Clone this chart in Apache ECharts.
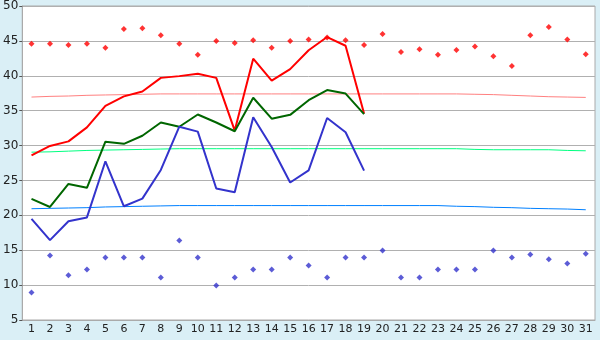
<!DOCTYPE html>
<html><head><meta charset="utf-8">
<script src="https://cdn.jsdelivr.net/npm/echarts@6/dist/echarts.min.js"></script>
<style>html,body{margin:0;padding:0;background:#daeff6;}#c{width:600px;height:340px;}</style>
</head><body><div id="c"></div>
<script>
const days = Array.from({length:31},(_,i)=>String(i+1));
const yTicks = [5,10,15,20,25,30,35,40,45,50];
const recordHigh = [44.6,44.6,44.4,44.6,44.0,46.7,46.8,45.8,44.6,43.0,45.0,44.7,45.1,44.0,45.0,45.2,45.5,45.1,44.4,46.0,43.4,43.8,43.0,43.7,44.2,42.8,41.4,45.8,47.0,45.2,43.1];
const recordLow = [8.95,14.25,11.4,12.25,13.95,13.95,13.95,11.1,16.4,13.95,9.95,11.1,12.25,12.25,13.95,12.8,11.1,13.95,13.95,14.95,11.1,11.1,12.25,12.25,12.25,14.95,13.95,14.4,13.7,13.1,14.5];
const maxTemp = [28.6,29.95,30.6,32.6,35.7,37.05,37.75,39.7,39.95,40.3,39.7,32.15,42.45,39.3,40.95,43.65,45.55,44.3,34.6];
const meanTemp = [22.35,21.2,24.5,23.95,30.55,30.25,31.4,33.3,32.7,34.45,33.3,32.05,36.85,33.85,34.4,36.5,37.95,37.45,34.5];
const minTemp = [19.5,16.45,19.15,19.7,27.75,21.3,22.4,26.5,32.7,32.0,23.85,23.3,34.05,29.8,24.7,26.45,33.95,31.9,26.4];
const normalMax = [36.95,37.05,37.1,37.2,37.25,37.3,37.35,37.4,37.4,37.4,37.4,37.4,37.4,37.4,37.4,37.4,37.4,37.4,37.4,37.4,37.4,37.4,37.4,37.4,37.35,37.3,37.2,37.1,37.0,36.95,36.9];
const normalMean = [29.05,29.1,29.2,29.3,29.35,29.4,29.45,29.5,29.55,29.55,29.55,29.55,29.55,29.55,29.55,29.55,29.55,29.55,29.55,29.55,29.55,29.55,29.55,29.55,29.45,29.4,29.4,29.4,29.4,29.3,29.25];
const normalMin = [20.95,21.0,21.05,21.1,21.2,21.25,21.3,21.35,21.4,21.4,21.4,21.4,21.4,21.4,21.4,21.4,21.4,21.4,21.4,21.4,21.4,21.4,21.4,21.3,21.25,21.15,21.1,21.0,20.95,20.9,20.8];

const chart = echarts.init(document.getElementById('c'), null, {renderer:'canvas'});
function thin(name, data, color){return {name,type:'line',data,showSymbol:false,silent:true,z:1,lineStyle:{color,width:1},itemStyle:{color},animation:false};}
function thick(name, data, color){return {name,type:'line',data,showSymbol:false,z:3,lineStyle:{color,width:2},itemStyle:{color},animation:false};}
function pts(name, data, color){return {name,type:'scatter',data,symbol:'diamond',symbolSize:6,z:5,itemStyle:{color},animation:false};}
chart.setOption({
  animation:false,
  backgroundColor:'#daeff6',
  grid:{left:21,right:5,top:5,bottom:20,show:true,backgroundColor:'#ffffff',borderColor:'#aaaaaa',borderWidth:1},
  xAxis:{type:'category',data:days,boundaryGap:true,
    axisLine:{lineStyle:{color:'#aaaaaa'}},
    axisTick:{alignWithLabel:true,length:5,lineStyle:{color:'#555555'}},
    axisLabel:{interval:0,color:'#222222',fontFamily:'DejaVu Sans',fontSize:11,margin:4},
    splitLine:{show:false}},
  yAxis:{type:'value',min:yTicks[0],max:yTicks[yTicks.length-1],interval:5,
    axisLine:{show:true,lineStyle:{color:'#aaaaaa'}},
    axisTick:{show:true,length:3,lineStyle:{color:'#555555'}},
    axisLabel:{color:'#222222',fontFamily:'DejaVu Sans',fontSize:12,margin:4},
    splitLine:{lineStyle:{color:'#b0b0b0',width:1}}},
  series:[
    thin('normalMax',normalMax,'#ff8080'),
    thin('normalMean',normalMean,'#00ff80'),
    thin('normalMin',normalMin,'#0080ff'),
    thick('max',maxTemp,'#ff0000'),
    thick('mean',meanTemp,'#006600'),
    thick('min',minTemp,'#3333cc'),
    pts('recordHigh',recordHigh,'#ff0000'),
    pts('recordLow',recordLow,'#3333cc')
  ]
});
</script></body></html>
